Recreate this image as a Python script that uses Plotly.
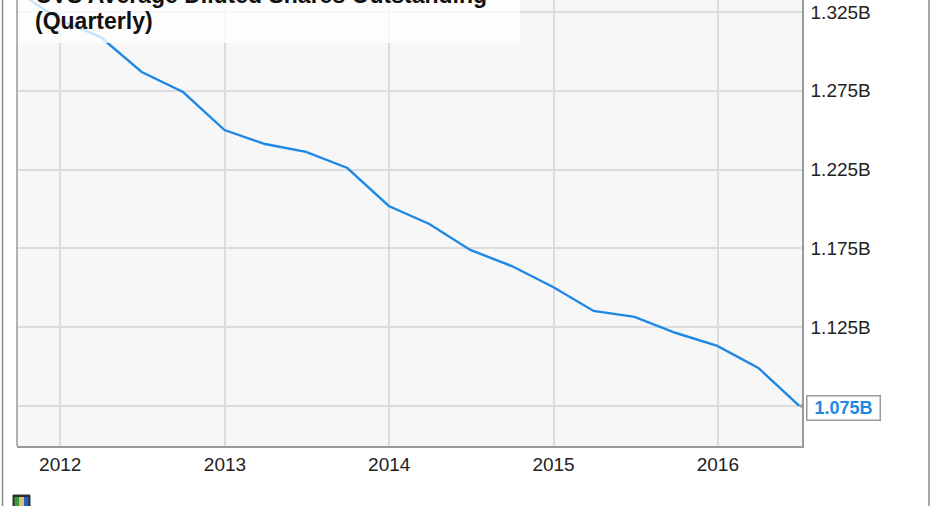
import plotly.graph_objects as go

dates = ["2011-09-30", "2011-12-31", "2012-03-31", "2012-06-30", "2012-09-30",
         "2012-12-31", "2013-03-31", "2013-06-30", "2013-09-30", "2013-12-31",
         "2014-03-31", "2014-06-30", "2014-09-30", "2014-12-31", "2015-03-31",
         "2015-06-30", "2015-09-30", "2015-12-31", "2016-03-31", "2016-06-30"]
shares_b = [1.3377, 1.3199, 1.3091, 1.2869, 1.2742,
            1.2501, 1.2412, 1.2362, 1.2260, 1.2019,
            1.1905, 1.1740, 1.1638, 1.1505, 1.1353,
            1.1315, 1.1213, 1.1131, 1.0991, 1.0750]
y_ticks = [1.075, 1.125, 1.175, 1.225, 1.275, 1.325]
# lowest tick's label is covered by the last-value callout in the reference
y_tick_labels = ["", "1.125B", "1.175B", "1.225B", "1.275B", "1.325B"]
x_ticks = ["2012-01-01", "2013-01-01", "2014-01-01", "2015-01-01", "2016-01-01"]
x_tick_labels = ["2012", "2013", "2014", "2015", "2016"]
title_line1 = "CVS Average Diluted Shares Outstanding"
title_line2 = "(Quarterly)"
last_label = "1.075B"

W, H = 931, 506
L, R, T, B = 17, 129, 0, 60
pw, ph = W - L - R, H - T - B
FONT = "Liberation Sans, Arial, sans-serif"

def px_x(px):
    return (px - L) / pw

def px_y(py):
    return (H - B - py) / ph

fig = go.Figure()
fig.add_trace(go.Scatter(x=dates, y=shares_b, mode="lines",
                         line=dict(color="#1e88e5", width=2.4),
                         hoverinfo="skip", showlegend=False))

shapes = [
    dict(type="line", xref="paper", yref="paper", x0=0, x1=0, y0=0, y1=1,
         line=dict(color="#9a9a9a", width=1.5)),
    dict(type="line", xref="paper", yref="paper", x0=px_x(2.5), x1=px_x(2.5),
         y0=px_y(H), y1=px_y(0), line=dict(color="#8a8a8a", width=1.5)),
    dict(type="line", xref="paper", yref="paper", x0=px_x(929), x1=px_x(929),
         y0=px_y(H), y1=px_y(0), line=dict(color="#8a8a8a", width=1.5)),
    dict(type="rect", xref="paper", yref="paper", x0=px_x(18), x1=px_x(520),
         y0=px_y(43), y1=px_y(0), fillcolor="rgba(255,255,255,0.75)",
         line=dict(width=0), layer="above"),
    dict(type="rect", xref="paper", yref="paper", x0=px_x(13), x1=px_x(30),
         y0=px_y(507), y1=px_y(495), fillcolor="#2a2a2a",
         line=dict(color="#333", width=1)),
    dict(type="rect", xref="paper", yref="paper", x0=px_x(14.5), x1=px_x(19),
         y0=px_y(506), y1=px_y(497), fillcolor="#3a9a3a", line=dict(width=0)),
    dict(type="rect", xref="paper", yref="paper", x0=px_x(19), x1=px_x(24),
         y0=px_y(506), y1=px_y(497), fillcolor="#d8c080", line=dict(width=0)),
    dict(type="rect", xref="paper", yref="paper", x0=px_x(24), x1=px_x(28.5),
         y0=px_y(506), y1=px_y(497), fillcolor="#2a5fc0", line=dict(width=0)),
    # callout pointer notch, anchored at the last data point
    dict(type="path", xref="x", yref="y", xsizemode="pixel", ysizemode="pixel",
         xanchor=dates[-1], yanchor=shares_b[-1],
         path="M 8,5 L 1,0 L 8,-6", fillcolor="white",
         line=dict(color="#9a9a9a", width=1.5), layer="above"),
]

annotations = [
    dict(xref="paper", yref="paper", x=px_x(33), y=px_y(-5), xanchor="left",
         yanchor="middle", text="<b>" + title_line1 + "</b>", showarrow=False,
         font=dict(family=FONT, size=23, color="#111")),
    dict(xref="paper", yref="paper", x=px_x(33), y=px_y(21), xanchor="left",
         yanchor="middle", text="<b>" + title_line2 + "</b>", showarrow=False,
         font=dict(family=FONT, size=23, color="#111")),
    dict(x=dates[-1], y=shares_b[-1], xref="x", yref="y", xanchor="left",
         yanchor="middle", xshift=7, yshift=-2, text="<b>" + last_label + "</b>",
         width=70, height=21, align="center",
         showarrow=False, bgcolor="white", bordercolor="#9a9a9a", borderwidth=1.5,
         borderpad=1, font=dict(family=FONT, size=18, color="#1e88e5")),
]

fig.update_layout(
    width=W, height=H,
    margin=dict(l=L, r=R, t=T, b=B),
    paper_bgcolor="white",
    plot_bgcolor="#f7f7f7",
    shapes=shapes,
    annotations=annotations,
    xaxis=dict(type="date", range=["2011-09-27", "2016-07-06"],
               tickvals=x_ticks, ticktext=x_tick_labels,
               showgrid=True, gridcolor="#dddddd", gridwidth=1.5,
               showline=True, linecolor="#9a9a9a", linewidth=1.5,
               ticks="", zeroline=False,
               tickfont=dict(family=FONT, size=19, color="#222")),
    yaxis=dict(side="right", range=[1.0496, 1.3326],
               tickvals=y_ticks, ticktext=y_tick_labels,
               showgrid=True, gridcolor="#dddddd", gridwidth=1.5,
               showline=True, linecolor="#9a9a9a", linewidth=1.5,
               ticks="outside", ticklen=3, tickcolor="rgba(0,0,0,0)", zeroline=False,
               tickfont=dict(family=FONT, size=19, color="#222")),
)

fig.write_html("out.html", config={"displayModeBar": False},
               post_script="document.body.style.margin='0px';document.body.style.overflow='hidden';")
